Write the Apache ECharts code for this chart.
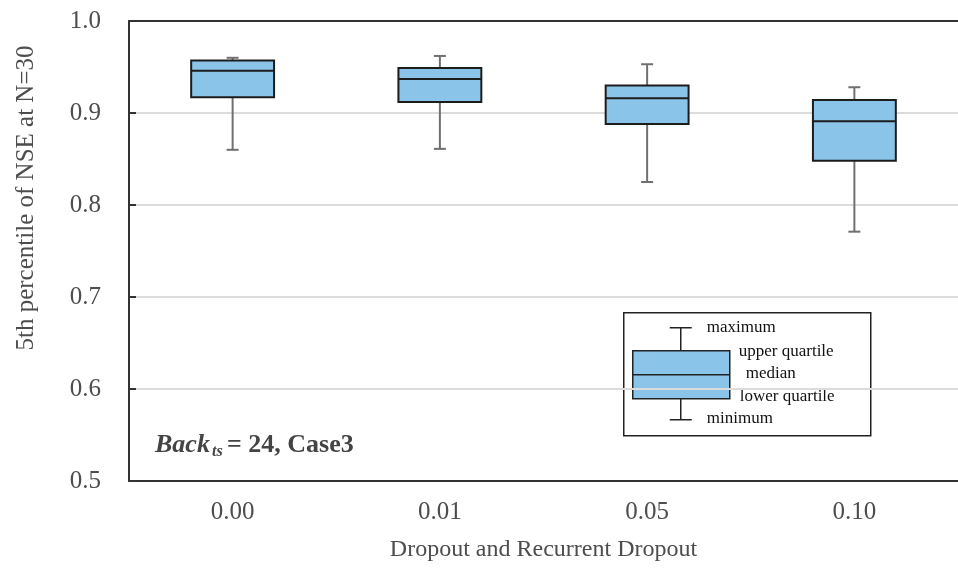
<!DOCTYPE html>
<html>
<head>
<meta charset="utf-8">
<script src="https://cdn.jsdelivr.net/npm/echarts@6/dist/echarts.min.js"></script>
<style>
  html, body { margin: 0; padding: 0; background: #fff; }
  #chart { width: 958px; height: 568px; }
</style>
</head>
<body>
<div id="chart"></div>
<script>
// Dropout settings on the category axis
const categories = ['0.00', '0.01', '0.05', '0.10'];
// Five-number summaries of the 5th percentile NSE for each setting
const minimum   = [0.860, 0.861, 0.825, 0.771];
const lowerQ    = [0.917, 0.912, 0.888, 0.848];
const median    = [0.946, 0.937, 0.916, 0.891];
const upperQ    = [0.957, 0.949, 0.930, 0.914];
const maximum   = [0.960, 0.962, 0.953, 0.928];
// Value axis ticks
const yTicks = [0.5, 0.6, 0.7, 0.8, 0.9, 1.0];

const serif = '"Liberation Serif", "DejaVu Serif", serif';
const textGray = '#4d4d4d';
const boxFill = '#8ac4e9';
const boxEdge = '#1c1c1c';
const whiskerColor = '#707070';

const boxData = categories.map((c, i) => [i, minimum[i], lowerQ[i], median[i], upperQ[i], maximum[i]]);

function renderBox(params, api) {
  const i = api.value(0);
  const pMin = api.coord([i, api.value(1)]);
  const pQ1 = api.coord([i, api.value(2)]);
  const pMed = api.coord([i, api.value(3)]);
  const pQ3 = api.coord([i, api.value(4)]);
  const pMax = api.coord([i, api.value(5)]);
  const cx = pMed[0];
  const bw = api.size([1, 0])[0] * 0.4;
  const cap = 12;
  const wStyle = { stroke: whiskerColor, lineWidth: 2 };
  return {
    type: 'group',
    children: [
      { type: 'line', shape: { x1: cx, y1: pMax[1], x2: cx, y2: pQ3[1] }, style: wStyle },
      { type: 'line', shape: { x1: cx, y1: pQ1[1], x2: cx, y2: pMin[1] }, style: wStyle },
      { type: 'line', shape: { x1: cx - cap / 2, y1: pMax[1], x2: cx + cap / 2, y2: pMax[1] }, style: wStyle },
      { type: 'line', shape: { x1: cx - cap / 2, y1: pMin[1], x2: cx + cap / 2, y2: pMin[1] }, style: wStyle },
      { type: 'rect', shape: { x: cx - bw / 2, y: pQ3[1], width: bw, height: pQ1[1] - pQ3[1] },
        style: { fill: boxFill, stroke: boxEdge, lineWidth: 2 } },
      { type: 'line', shape: { x1: cx - bw / 2, y1: pMed[1], x2: cx + bw / 2, y2: pMed[1] },
        style: { stroke: boxEdge, lineWidth: 2 } }
    ]
  };
}

// Explanatory key for the box glyph
const keyX = 623, keyY = 312;
const keyText = (x, y, t) => ({
  type: 'text', x: x, y: y,
  style: { text: t, font: '17px ' + serif, fill: '#111', textVerticalAlign: 'middle' }
});
const keyGraphic = {
  type: 'group', left: keyX, top: keyY, z: 100,
  children: [
    { type: 'rect', shape: { x: 0, y: 0, width: 247, height: 123 },
      style: { fill: '#fff', stroke: '#222', lineWidth: 1.5 } },
    { type: 'line', shape: { x1: 57, y1: 15, x2: 57, y2: 38 }, style: { stroke: '#222', lineWidth: 1.5 } },
    { type: 'line', shape: { x1: 57, y1: 86, x2: 57, y2: 107 }, style: { stroke: '#222', lineWidth: 1.5 } },
    { type: 'line', shape: { x1: 46, y1: 15, x2: 68, y2: 15 }, style: { stroke: '#222', lineWidth: 1.5 } },
    { type: 'line', shape: { x1: 46, y1: 107, x2: 68, y2: 107 }, style: { stroke: '#222', lineWidth: 1.5 } },
    { type: 'rect', shape: { x: 9, y: 38, width: 97, height: 48 },
      style: { fill: boxFill, stroke: '#222', lineWidth: 1.5 } },
    { type: 'line', shape: { x1: 9, y1: 62, x2: 106, y2: 62 }, style: { stroke: '#222', lineWidth: 1.5 } },
    keyText(83, 15, 'maximum'),
    keyText(115, 39, 'upper quartile'),
    keyText(122, 61, 'median'),
    keyText(116, 84, 'lower quartile'),
    keyText(83, 106, 'minimum')
  ]
};

// Case annotation: Back_ts = 24, Case3
const noteGraphic = {
  type: 'group', left: 155, top: 432, z: 100,
  children: [
    { type: 'text', x: 0, y: 0,
      style: { text: 'Back', font: 'italic bold 26px ' + serif, fill: '#444' } },
    { type: 'text', x: 57, y: 12,
      style: { text: 'ts', font: 'italic bold 16px ' + serif, fill: '#444' } },
    { type: 'text', x: 72, y: 0,
      style: { text: '= 24, Case3', font: 'bold 26px ' + serif, fill: '#444' } }
  ]
};

const chart = echarts.init(document.getElementById('chart'), null, { renderer: 'canvas' });
chart.setOption({
  animation: false,
  backgroundColor: '#fff',
  grid: { left: 129, top: 21, width: 832, height: 460 },
  xAxis: [{
    type: 'category',
    data: categories,
    name: 'Dropout and Recurrent Dropout',
    nameLocation: 'middle',
    nameGap: 57,
    nameTextStyle: { fontFamily: serif, fontSize: 24, color: textGray },
    axisLine: { lineStyle: { color: '#333', width: 2 } },
    axisTick: { inside: true, length: 7, lineStyle: { color: '#333', width: 2 } },
    axisLabel: { fontFamily: serif, fontSize: 25, color: textGray, margin: 19 },
    splitLine: { show: false }
  }, {
    // frame line along the top of the plot
    type: 'category',
    data: categories,
    position: 'top',
    axisLine: { show: true, lineStyle: { color: '#333', width: 2 } },
    axisTick: { show: false },
    axisLabel: { show: false },
    splitLine: { show: false }
  }],
  yAxis: {
    type: 'value',
    min: 0.5, max: 1.0, interval: 0.1,
    name: '5th percentile of NSE at N=30',
    nameLocation: 'middle',
    nameGap: 90,
    nameTextStyle: { fontFamily: serif, fontSize: 25, color: textGray, padding: [0, 0, 0, 106] },
    axisLine: { show: true, lineStyle: { color: '#333', width: 2 } },
    axisTick: { show: true, inside: true, length: 7, lineStyle: { color: '#333', width: 2 } },
    axisLabel: {
      fontFamily: serif, fontSize: 25, color: textGray, margin: 28,
      formatter: v => yTicks.find(t => Math.abs(t - v) < 1e-9).toFixed(1)
    },
    splitLine: { show: true, lineStyle: { color: '#dcdcdc', width: 2 } }
  },
  series: [{
    type: 'custom',
    renderItem: renderBox,
    encode: { x: 0, y: [1, 2, 3, 4, 5] },
    data: boxData,
    z: 10
  }],
  graphic: [keyGraphic, noteGraphic]
});
</script>
</body>
</html>
